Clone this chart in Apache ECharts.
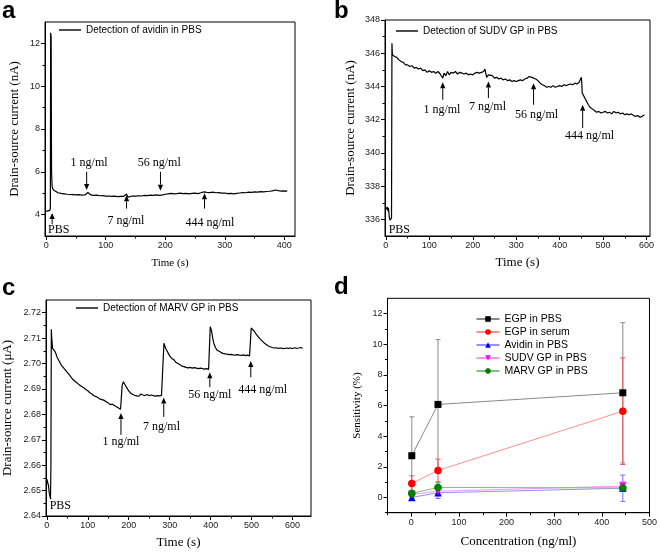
<!DOCTYPE html>
<html><head><meta charset="utf-8">
<script src="https://cdn.jsdelivr.net/npm/echarts@6/dist/echarts.min.js"></script>
<style>html,body{margin:0;padding:0;background:#fff}#c{width:660px;height:552px}</style>
</head><body><div id="c"></div>
<script>
// ---------- Panel a: avidin ----------
const timeA = [0,3,6,7,7.5,8.3,9,10,12,15,20,25,30,35,40,45,50,55,60,65,68,70,72,75,80,85,90,95,100,105,110,115,120,125,130,133,135,137,140,145,150,155,160,165,170,175,180,185,190,193,196,200,205,210,215,220,225,230,235,240,245,250,255,260,265,267,270,275,280,285,290,295,300,305,310,315,320,325,330,335,340,345,350,355,360,365,370,375,380,385,390,395,400,405];
const currentA = [4.15,4.17,4.2,4.3,12.5,12.3,6.0,5.3,5.15,5.08,5.02,4.99,4.97,4.95,4.94,4.93,4.92,4.93,4.91,4.92,4.99,5.03,4.95,4.92,4.9,4.91,4.88,4.89,4.86,4.87,4.85,4.86,4.84,4.85,4.85,4.88,4.96,4.82,4.85,4.87,4.86,4.88,4.87,4.9,4.89,4.91,4.9,4.92,4.9,4.85,4.92,4.95,4.97,4.99,4.97,4.98,5.0,4.98,4.99,4.97,4.99,5.0,4.98,5.02,5.06,4.97,5.04,5.03,5.05,5.02,5.03,5.0,5.01,4.98,4.99,4.97,4.99,5.01,5.03,5.02,5.05,5.04,5.06,5.05,5.07,5.06,5.08,5.09,5.11,5.15,5.12,5.1,5.11,5.1];
// annotation: [arrow x, arrow tip y, arrow tail y, label x, label y, text]
const annotA = [
  [10, 4.07, 3.55, 21, 3.3, 'PBS'],
  [68, 5.15, 6.0, 72, 6.42, '1 ng/ml'],
  [135, 4.9, 4.28, 134, 3.7, '7 ng/ml'],
  [192, 5.12, 6.0, 190, 6.42, '56 ng/ml'],
  [266, 5.0, 4.28, 275, 3.6, '444 ng/ml']
];

// ---------- Panel b: SUDV GP ----------
const timeB = [0,3,5,6,8,10,12,13,14,15,18,20,25,30,35,40,45,50,55,60,65,70,75,80,85,90,95,100,105,110,115,120,125,128,131,134,138,142,146,150,155,160,165,170,175,180,185,190,195,200,205,210,215,220,225,228,230,232,236,240,245,250,255,260,265,270,275,280,285,290,295,300,305,310,315,320,325,330,333,336,340,345,350,355,360,365,370,375,380,385,390,395,400,405,410,415,420,425,430,435,440,445,448,450,451,452,455,458,462,466,470,475,480,485,490,495,500,505,510,515,520,525,530,535,540,545,550,555,560,565,570,575,580,585,590,595];
const currentB = [336.6,336.75,336.5,336.7,336.1,335.95,335.9,336.1,346.6,345.9,346.0,345.8,345.75,345.6,345.5,345.45,345.3,345.3,345.2,345.25,345.1,345.15,345.05,345.1,344.95,345.0,344.85,344.95,344.85,344.9,344.8,344.9,344.75,344.85,344.5,344.8,344.65,344.9,344.7,344.85,344.8,344.9,344.75,344.85,344.8,344.75,344.8,344.7,344.75,344.7,344.8,344.85,344.8,344.85,344.9,345.05,344.8,344.55,344.7,344.6,344.65,344.5,344.55,344.45,344.5,344.4,344.45,344.35,344.4,344.3,344.35,344.3,344.35,344.4,344.35,344.45,344.5,344.6,344.7,344.55,344.65,344.45,344.35,344.2,344.1,344.05,343.95,344.0,343.95,344.05,343.95,344.0,344.05,344.0,344.1,344.05,344.1,344.15,344.1,344.2,344.15,344.25,344.35,344.55,344.2,343.6,343.5,343.3,343.1,342.9,342.75,342.65,342.55,342.45,342.5,342.4,342.45,342.5,342.4,342.45,342.35,342.5,342.4,342.45,342.35,342.4,342.3,342.35,342.3,342.35,342.25,342.2,342.25,342.15,342.2,342.3];
const annotB = [
  [131, 344.25, 343.2, 129, 342.6, '1 ng/ml'],
  [236, 344.3, 343.3, 234, 342.75, '7 ng/ml'],
  [340, 344.2, 342.9, 347, 342.3, '56 ng/ml'],
  [453, 342.9, 341.5, 469, 341.0, '444 ng/ml'],
  [31, 335.4, 335.4, 31, 335.4, 'PBS']
];

// ---------- Panel c: MARV GP ----------
const timeC = [0,2,4,6,8,9,10,11,12,14,16,19,22,25,30,35,40,45,50,55,60,65,70,75,80,85,90,95,100,105,110,115,120,125,130,135,140,145,150,155,160,165,168,172,176,180,182,184,187,190,195,200,205,210,215,220,225,230,235,240,245,250,255,260,265,270,275,280,284,286,290,295,300,305,310,315,320,325,330,335,340,345,350,355,360,365,370,375,380,385,390,395,397,399,402,405,408,412,416,420,425,430,435,440,445,450,455,460,465,470,475,480,485,490,495,497,499,502,506,510,515,520,525,530,535,540,545,550,555,560,565,570,575,580,585,590,595,600,605,610,615,620,625];
const currentC = [2.6545,2.655,2.652,2.649,2.6475,2.6466,2.66,2.7135,2.71,2.706,2.7055,2.705,2.704,2.7025,2.701,2.6995,2.6985,2.6975,2.6965,2.6955,2.6945,2.6935,2.6928,2.6922,2.6915,2.691,2.6905,2.6898,2.6893,2.6885,2.688,2.6873,2.687,2.6865,2.686,2.6858,2.6855,2.685,2.6845,2.6838,2.684,2.6835,2.6838,2.6828,2.6825,2.682,2.6825,2.6915,2.6928,2.6922,2.6905,2.6892,2.6883,2.6878,2.6875,2.6873,2.6872,2.688,2.6876,2.6874,2.6878,2.6873,2.6876,2.6874,2.6872,2.6874,2.6873,2.6875,2.6872,2.708,2.706,2.7045,2.703,2.702,2.7015,2.7005,2.7,2.6995,2.699,2.6988,2.6985,2.6983,2.6985,2.6982,2.6984,2.6982,2.698,2.6982,2.698,2.6978,2.698,2.6977,2.6976,2.7145,2.713,2.71,2.7078,2.7062,2.7052,2.7047,2.7044,2.704,2.7038,2.7037,2.7035,2.7036,2.7034,2.7033,2.7035,2.7033,2.7032,2.7034,2.7031,2.7033,2.703,2.7028,2.714,2.7138,2.7128,2.7118,2.7108,2.7098,2.709,2.7082,2.7076,2.707,2.7066,2.7063,2.7061,2.7062,2.706,2.7061,2.706,2.7059,2.7061,2.706,2.7061,2.7059,2.7062,2.706,2.7061,2.7063,2.706];
const annotC = [
  [181, 2.6805, 2.6719, 181, 2.6692, '1 ng/ml'],
  [285.5, 2.6866, 2.679, 280, 2.6752, '7 ng/ml'],
  [398, 2.6966, 2.6907, 398, 2.6876, '56 ng/ml'],
  [498, 2.701, 2.6946, 527, 2.6897, '444 ng/ml'],
  [33, 2.6439, 2.6439, 33, 2.6439, 'PBS']
];

// ---------- Panel d: sensitivity ----------
const concD = [1, 56, 444];
const egpPbs = [2.72, 6.07, 6.83];
const egpPbsErr = [2.54, 4.23, 4.58];
const egpSerum = [0.91, 1.76, 5.63];
const egpSerumErr = [0.5, 0.74, 3.48];
const avidinPbs = [0.0, 0.3, 0.6];
const avidinPbsErr = [0.05, 0.37, 0.86];
const sudvPbs = [0.2, 0.4, 0.74];
const sudvPbsErr = [0.1, 0.25, 0.3];
const marvPbs = [0.26, 0.65, 0.62];
const marvPbsErr = [0.15, 0.31, 0.1];

// ---------- tick values ----------
const ticksAx = [0,100,200,300,400], minorAx = [50,150,250,350];
const ticksAy = [4,6,8,10,12], minorAy = [5,7,9,11];
const ticksBx = [0,100,200,300,400,500,600], minorBx = [50,150,250,350,450,550];
const ticksBy = [336,338,340,342,344,346,348], minorBy = [337,339,341,343,345,347];
const ticksCx = [0,100,200,300,400,500,600], minorCx = [50,150,250,350,450,550];
const ticksCy = [2.64,2.65,2.66,2.67,2.68,2.69,2.70,2.71,2.72], minorCy = [2.645,2.655,2.665,2.675,2.685,2.695,2.705,2.715];
const ticksDx = [0,100,200,300,400,500], minorDx = [-50,50,150,250,350,450];
const ticksDy = [0,2,4,6,8,10,12], minorDy = [-1,1,3,5,7,9,11];

const SERIF = '"Liberation Serif","Times New Roman",serif';
const SANS = '"Liberation Sans",Arial,sans-serif';

const chart = echarts.init(document.getElementById('c'), null, {renderer:'canvas'});

function axisPair(dim, g, min, max, majors, minors, fmt, name, nameGap, nameSize) {
  const major = {
    type:'value', gridIndex:g, min:min, max:max,
    position: dim === 'x' ? 'bottom' : 'left',
    axisLine:{show:true, onZero:false, lineStyle:{color:'#000', width:1}},
    axisTick:{show:true, inside:false, length:4, customValues:majors, lineStyle:{color:'#000', width:1}},
    axisLabel:{show:true, customValues:majors, fontSize:9, fontFamily:SANS, color:'#222',
      margin:5, formatter: fmt},
    splitLine:{show:false},
    name:name, nameLocation:'middle', nameGap:nameGap,
    nameTextStyle:{fontFamily:SERIF, fontSize:nameSize, color:'#000'}
  };
  const minor = {
    type:'value', gridIndex:g, min:min, max:max,
    position: dim === 'x' ? 'bottom' : 'left',
    axisLine:{show:false, onZero:false},
    axisTick:{show:true, inside:false, length:2.5, customValues:minors, lineStyle:{color:'#000', width:1}},
    axisLabel:{show:false}, splitLine:{show:false}
  };
  return [major, minor];
}

const intFmt = v => String(Math.round(v));
const c2Fmt = v => v.toFixed(2);

const xAxes = [].concat(
  axisPair('x', 0, -2, 418, ticksAx, minorAx, intFmt, 'Time (s)', 22, 11),
  axisPair('x', 1, -2, 608, ticksBx, minorBx, intFmt, 'Time (s)', 20, 13),
  axisPair('x', 2, -2, 645, ticksCx, minorCx, intFmt, 'Time (s)', 20, 13),
  axisPair('x', 3, -50, 500, ticksDx, minorDx, intFmt, 'Concentration (ng/ml)', 22, 13)
);
const yAxes = [].concat(
  axisPair('y', 0, 3, 13, ticksAy, minorAy, intFmt, 'Drain-source current (nA)', 24, 13),
  axisPair('y', 1, 335, 348, ticksBy, minorBy, intFmt, 'Drain-source current (nA)', 28, 13),
  axisPair('y', 2, 2.64, 2.725, ticksCy, minorCy, c2Fmt, 'Drain-source current (\u03bcA)', 32, 13),
  axisPair('y', 3, -1, 13, ticksDy, minorDy, intFmt, 'Sensitivity (%)', 25, 11)
);

const grids = [
  {left:45, right:365, top:22, bottom:316},
  {left:385, right:10, top:20, bottom:316},
  {left:46, right:349, top:300, bottom:36},
  {left:387.5, right:9.3, top:298.3, bottom:39.3}
].map(g => Object.assign({show:true, borderColor:'#000', borderWidth:1, backgroundColor:'#fff', containLabel:false}, g));

function annotSeries(arr, g) {
  return {
    type:'custom', xAxisIndex:2*g, yAxisIndex:2*g, clip:false, z:5, silent:true,
    data: arr.map(a => [a[0], a[1], a[2], a[3], a[4]]),
    renderItem: function (params, api) {
      const a = arr[params.dataIndex];
      const children = [];
      if (a[1] !== a[2]) {
        const tail = api.coord([a[0], a[2]]);
        const tip = api.coord([a[0], a[1]]);
        const dir = tip[1] > tail[1] ? 1 : -1;
        const headLen = 6, headHalf = 2.6;
        children.push({type:'line', shape:{x1:tail[0], y1:tail[1], x2:tip[0], y2:tip[1] - dir*headLen},
          style:{stroke:'#000', lineWidth:1}});
        children.push({type:'polygon', shape:{points:[[tip[0], tip[1]], [tip[0]-headHalf, tip[1]-dir*headLen], [tip[0]+headHalf, tip[1]-dir*headLen]]},
          style:{fill:'#000'}});
      }
      const lp = api.coord([a[3], a[4]]);
      children.push({type:'text', style:{text:a[5], x:lp[0], y:lp[1], align:'center', verticalAlign:'middle',
        font:'12px ' + SERIF, fill:'#000'}});
      return {type:'group', children:children};
    }
  };
}

function traceSeries(name, xs, ys, g) {
  return {
    name:name, type:'line', xAxisIndex:2*g, yAxisIndex:2*g, symbol:'none', showSymbol:false,
    data: xs.map((t, i) => [t, ys[i]]),
    lineStyle:{color:'#000', width:1.2}, itemStyle:{color:'#000'}, animation:false, z:3
  };
}

const dSeriesDef = [
  {name:'EGP in PBS', vals:egpPbs, errs:egpPbsErr, mark:'#000000', line:'#8a8a8a', err:'#8a8a8a', symbol:'rect', rot:0, size:7},
  {name:'EGP in serum', vals:egpSerum, errs:egpSerumErr, mark:'#ff0000', line:'#ff9090', err:'#f05050', symbol:'circle', rot:0, size:7.5},
  {name:'Avidin in PBS', vals:avidinPbs, errs:avidinPbsErr, mark:'#0000ff', line:'#9090ff', err:'#7070ff', symbol:'triangle', rot:0, size:7.5},
  {name:'SUDV GP in PBS', vals:sudvPbs, errs:sudvPbsErr, mark:'#ff00ff', line:'#ff90ff', err:'#ff70ff', symbol:'triangle', rot:180, size:7.5},
  {name:'MARV GP in PBS', vals:marvPbs, errs:marvPbsErr, mark:'#008000', line:'#80c080', err:'#60b060', symbol:'path://M3,0 H7 L10,3 V7 L7,10 H3 L0,7 V3 Z', rot:0, size:7.5}
];

const dSeries = [];
dSeriesDef.forEach(function (s) {
  dSeries.push({
    name:s.name + ' err', type:'custom', xAxisIndex:6, yAxisIndex:6, z:2, silent:true,
    data: concD.map((c, i) => [c, s.vals[i], s.errs[i]]),
    renderItem: function (params, api) {
      const x = api.value(0), y = api.value(1), e = api.value(2);
      const top = api.coord([x, y + e]), bot = api.coord([x, y - e]);
      const cw = 2.5;
      const st = {stroke:s.err, lineWidth:1};
      return {type:'group', children:[
        {type:'line', shape:{x1:top[0], y1:top[1], x2:bot[0], y2:bot[1]}, style:st},
        {type:'line', shape:{x1:top[0]-cw, y1:top[1], x2:top[0]+cw, y2:top[1]}, style:st},
        {type:'line', shape:{x1:bot[0]-cw, y1:bot[1], x2:bot[0]+cw, y2:bot[1]}, style:st}
      ]};
    }
  });
});
dSeriesDef.forEach(function (s) {
  dSeries.push({
    name:s.name, type:'line', xAxisIndex:6, yAxisIndex:6, z:4,
    data: concD.map((c, i) => [c, s.vals[i]]),
    symbol:s.symbol, symbolRotate:s.rot, symbolSize:s.size, showSymbol:true,
    lineStyle:{color:s.line, width:1}, itemStyle:{color:s.mark, borderWidth:0}, animation:false
  });
});

const legendText = {fontFamily:SANS, fontSize:10, color:'#000'};
const lineLegend = {icon:'rect', itemWidth:22, itemHeight:1.4, textStyle:legendText, selectedMode:false, padding:0};

const option = {
  backgroundColor:'#fff',
  animation:false,
  grid: grids,
  xAxis: xAxes,
  yAxis: yAxes,
  legend: [
    Object.assign({data:['Detection of avidin in PBS'], left:59, top:25}, lineLegend),
    Object.assign({data:['Detection of SUDV GP in PBS'], left:396, top:26}, lineLegend),
    Object.assign({data:['Detection of MARV GP in PBS'], left:76, top:303}, lineLegend),
    {data:dSeriesDef.map(s => s.name), orient:'vertical', left:475.5, top:313, itemWidth:23, itemHeight:7, itemGap:1,
      textStyle:{fontFamily:SANS, fontSize:10.5, color:'#000', lineHeight:12}, selectedMode:false, padding:0}
  ],
  graphic: [
    {type:'text', style:{text:'a', x:2, y:11, verticalAlign:'middle', font:'bold 24px ' + SANS, fill:'#000'}},
    {type:'text', style:{text:'b', x:334, y:11, verticalAlign:'middle', font:'bold 24px ' + SANS, fill:'#000'}},
    {type:'text', style:{text:'c', x:2, y:288, verticalAlign:'middle', font:'bold 24px ' + SANS, fill:'#000'}},
    {type:'text', style:{text:'d', x:334, y:287, verticalAlign:'middle', font:'bold 24px ' + SANS, fill:'#000'}}
  ],
  series: [
    traceSeries('Detection of avidin in PBS', timeA, currentA, 0),
    traceSeries('Detection of SUDV GP in PBS', timeB, currentB, 1),
    traceSeries('Detection of MARV GP in PBS', timeC, currentC, 2),
    annotSeries(annotA, 0),
    annotSeries(annotB, 1),
    annotSeries(annotC, 2)
  ].concat(dSeries)
};
chart.setOption(option);
</script>
</body></html>
